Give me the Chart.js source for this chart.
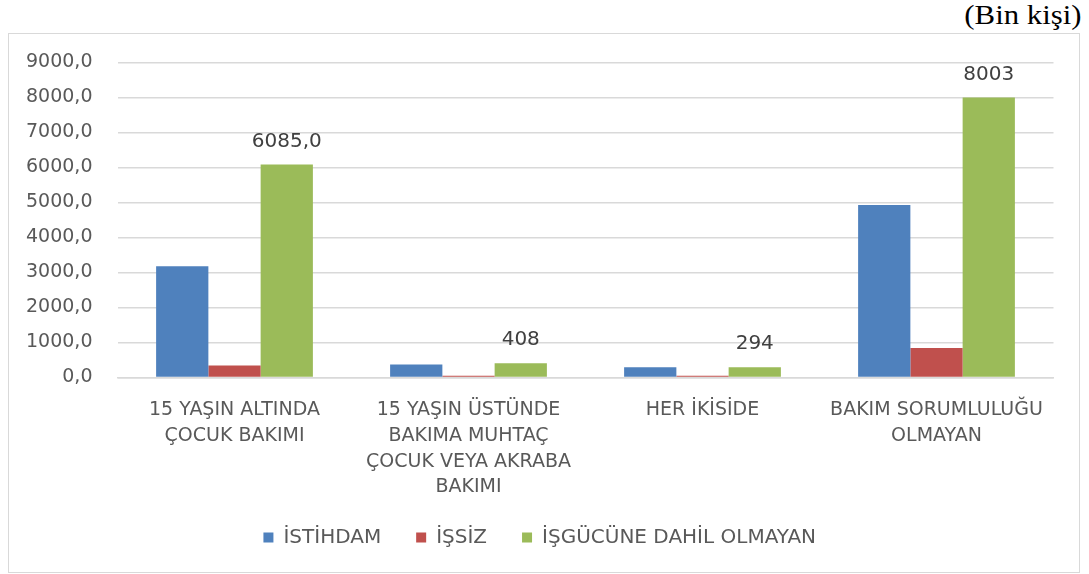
<!DOCTYPE html>
<html lang="tr">
<head>
  <meta charset="UTF-8">
  <title>Bakım sorumluluğu ve işgücü durumu</title>
  <script src="https://cdn.jsdelivr.net/npm/chart.js"></script>
  <style>
    body {
      margin: 0;
      background: white;
      width: 1089px;
      height: 574px;
      position: relative;
      overflow: hidden;
    }
    .unit {
      position: absolute;
      right: 7px;
      top: -1px;
      font-family: "Liberation Serif", "Times New Roman", serif;
      font-size: 28px;
      color: #000;
      transform: scaleX(1.1);
      transform-origin: right center;
    }
    .frame {
      position: absolute;
      left: 8px;
      top: 33px;
      width: 1072px;
      height: 540px;
      border: 1.5px solid #d9d9d9;
      box-sizing: border-box;
    }
  </style>
</head>
<body>

<div class="unit">(Bin kişi)</div>
<div class="frame">
  <canvas id="chart"></canvas>
</div>

<script>
const categories = [
  ["15 YAŞIN ALTINDA", "ÇOCUK BAKIMI"],
  ["15 YAŞIN ÜSTÜNDE", "BAKIMA MUHTAÇ", "ÇOCUK VEYA AKRABA", "BAKIMI"],
  ["HER İKİSİDE"],
  ["BAKIM SORUMLULUĞU", "OLMAYAN"]
];
const istihdam = [3181, 373, 295, 4930];
const issiz = [344, 50, 50, 840];
const isgucuDisi = [6085, 408, 294, 8003];
const isgucuDisiLabels = ["6085,0", "408", "294", "8003"];
const yTicks = [0, 1000, 2000, 3000, 4000, 5000, 6000, 7000, 8000, 9000];

const textFont = "'DejaVu Sans', sans-serif";

// labels above the green bars only
const greenLabels = {
  id: "greenLabels",
  afterDatasetsDraw(chart) {
    const ctx = chart.ctx;
    const meta = chart.getDatasetMeta(2);
    ctx.save();
    ctx.font = "20px " + textFont;
    ctx.fillStyle = "#404040";
    ctx.textAlign = "center";
    ctx.textBaseline = "middle";
    meta.data.forEach((bar, i) => {
      ctx.fillText(isgucuDisiLabels[i], bar.x, bar.y - 23);
    });
    ctx.restore();
  }
};

Chart.defaults.font.family = textFont;
Chart.defaults.color = "#595959";

new Chart(document.getElementById("chart"), {
  type: "bar",
  data: {
    labels: categories,
    datasets: [
      { label: "İSTİHDAM", data: istihdam, backgroundColor: "#4f81bd" },
      { label: "İŞSİZ", data: issiz, backgroundColor: "#c0504d" },
      { label: "İŞGÜCÜNE DAHİL OLMAYAN", data: isgucuDisi, backgroundColor: "#9bbb59" }
    ]
  },
  options: {
    responsive: true,
    maintainAspectRatio: false,
    animation: false,
    layout: { padding: { left: 17, right: 25.5, top: 28.5, bottom: 14.5 } },
    datasets: { bar: { categoryPercentage: 0.67, barPercentage: 1.0 } },
    plugins: {
      legend: {
        position: "bottom",
        labels: {
          boxWidth: 10,
          boxHeight: 10,
          padding: 35,
          font: { size: 20 },
          color: "#595959"
        }
      },
      tooltip: { enabled: false }
    },
    scales: {
      x: {
        grid: { display: false, drawTicks: false },
        border: { color: "#d9d9d9", width: 1.5 },
        ticks: {
          font: { size: 19, lineHeight: 1.35 },
          color: "#595959",
          padding: 20,
          maxRotation: 0,
          autoSkip: false
        },
        // labels may run into the legend's top padding, as in the original
        afterFit: scale => {
          scale.height = 115;
          scale.paddingLeft = 0;
          scale.paddingRight = 0;
        }
      },
      y: {
        min: 0,
        max: 9000,
        afterBuildTicks: axis => { axis.ticks = yTicks.map(v => ({ value: v })); },
        afterFit: scale => {
          scale.width = 91.5;
          scale.paddingTop = 28.5;
        },
        grid: { color: "#d9d9d9", lineWidth: 1.5, drawTicks: false },
        border: { display: false },
        ticks: {
          font: { size: 19 },
          color: "#595959",
          padding: 25,
          callback: v => v.toFixed(1).replace(".", ",")
        }
      }
    }
  },
  plugins: [greenLabels]
});
</script>

</body>
</html>
